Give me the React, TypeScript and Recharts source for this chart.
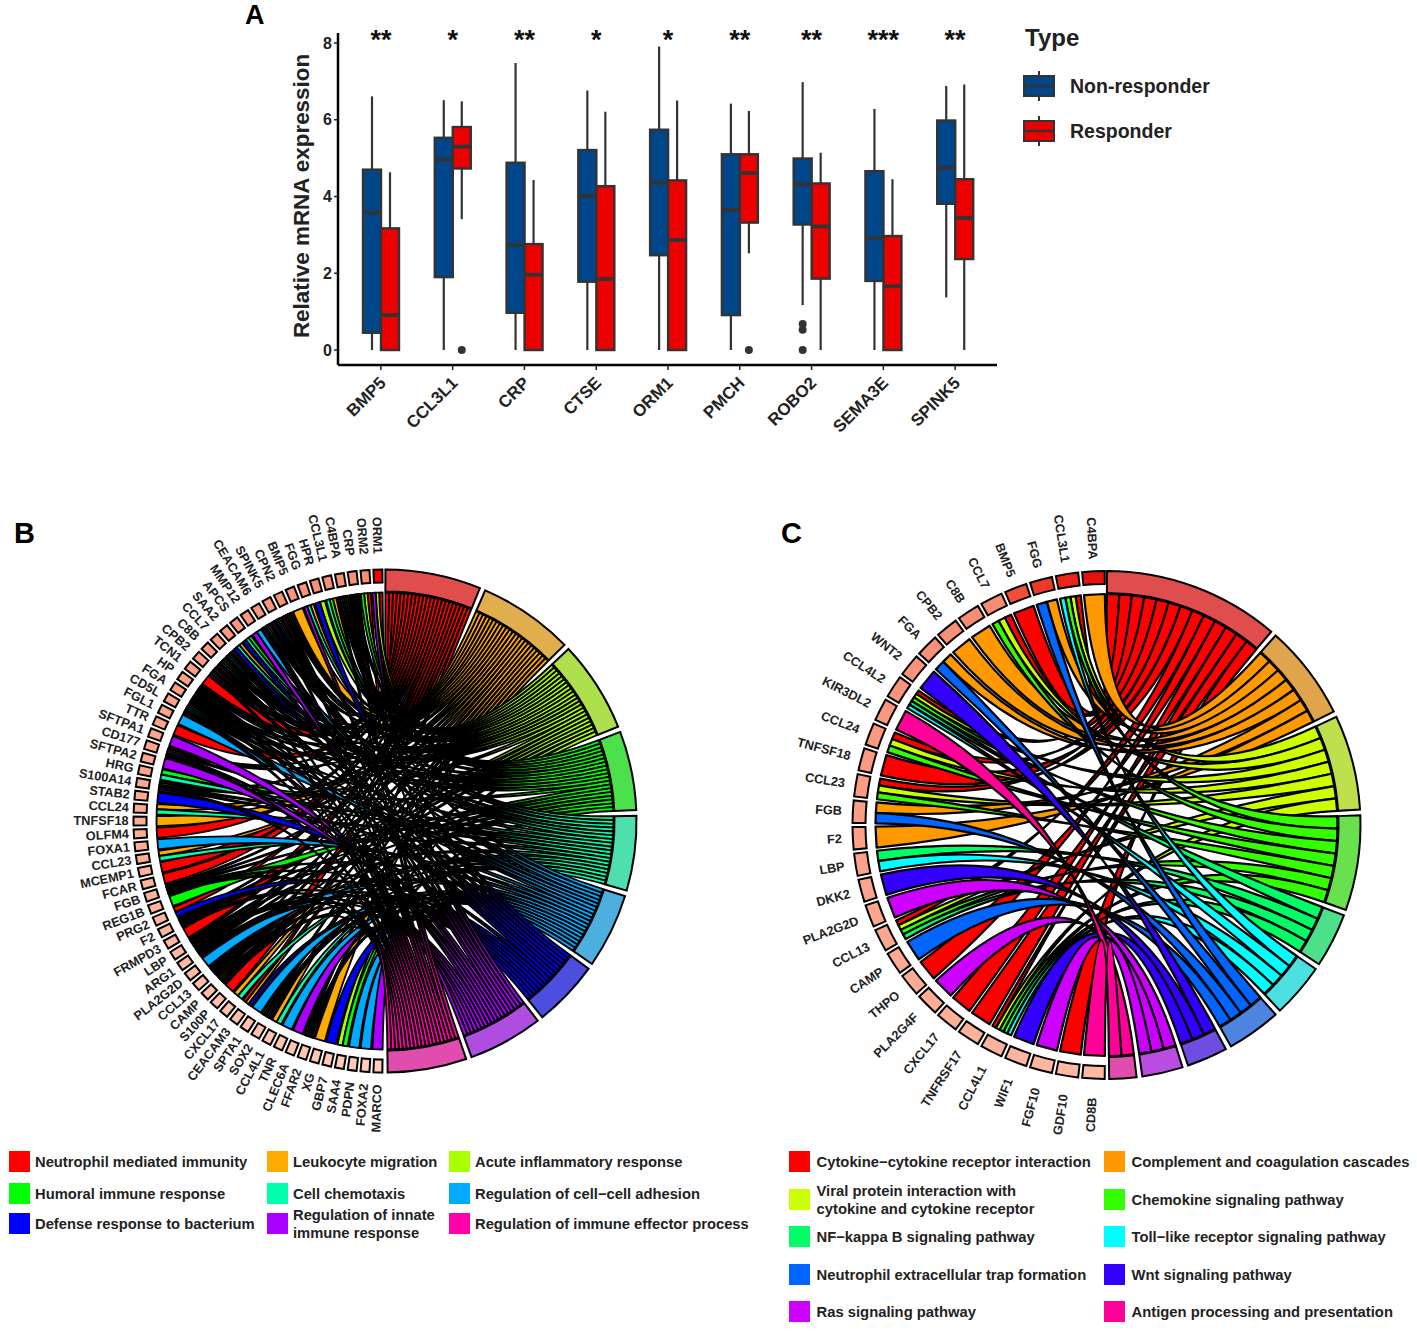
import React from "react";
import {
  ComposedChart, Bar, XAxis, YAxis, ReferenceDot,
  PieChart, Pie,
} from "recharts";

const FONT = "'Liberation Sans', Arial, sans-serif";

// Panel A
const boxGenes = ["BMP5", "CCL3L1", "CRP", "CTSE", "ORM1", "PMCH", "ROBO2", "SEMA3E", "SPINK5"];
const significance = ["**", "*", "**", "*", "*", "**", "**", "***", "**"];
// low, q1, median, q3, high
const nonResponder = [
  [0, 0.45, 3.58, 4.7, 6.61], [0, 1.9, 4.96, 5.53, 6.51], [0, 0.97, 2.74, 4.88, 7.48],
  [0, 1.78, 4.02, 5.21, 6.76], [0, 2.47, 4.36, 5.74, 7.91], [0, 0.91, 3.65, 5.1, 6.42],
  [1.17, 3.27, 4.32, 4.99, 6.98], [0, 1.8, 2.91, 4.66, 6.28], [1.37, 3.81, 4.75, 5.98, 6.88],
];
const responder = [
  [0, 0, 0.91, 3.17, 4.63], [3.41, 4.73, 5.3, 5.81, 6.48], [0, 0, 1.96, 2.76, 4.43],
  [0, 0, 1.85, 4.27, 6.21], [0, 0, 2.87, 4.42, 6.5], [2.52, 3.32, 4.61, 5.1, 6.23],
  [0, 1.86, 3.22, 4.34, 5.14], [0, 0, 1.66, 2.97, 4.45], [0, 2.37, 3.44, 4.45, 6.92],
];
const nonResponderOutliers = [[], [], [], [], [], [], [0.68, 0.53, 0], [], []];
const responderOutliers = [[], [0], [], [], [], [0], [], [], []];

const boxTable = boxGenes.map((gene, i) => ({
  gene,
  nr: nonResponder[i],
  re: responder[i],
  nrOut: nonResponderOutliers[i],
  reOut: responderOutliers[i],
}));

const BOX_STROKE = "#333333";
const NR_COLOR = "#00468B";
const RE_COLOR = "#ED0000";

const makeBox = (key: string, outKey: string) => (props: any) => {
  const { x, y, width, height, fill, payload } = props;
  const [low, q1, med, q3, high] = payload[key];
  const perUnit = height / (q3 - q1);
  const toY = (v: number) => y + (q3 - v) * perUnit;
  const mid = x + width / 2;
  return (
    <g>
      <line x1={mid} x2={mid} y1={toY(high)} y2={toY(low)} stroke={BOX_STROKE} strokeWidth={2.2} />
      <rect x={x} y={y} width={width} height={height} fill={fill} stroke={BOX_STROKE} strokeWidth={2.4} />
      <line x1={x} x2={x + width} y1={toY(med)} y2={toY(med)} stroke={BOX_STROKE} strokeWidth={3.8} />
      {payload[outKey].map((v: number, i: number) => (
        <circle key={i} cx={mid} cy={toY(v)} r={4} fill={BOX_STROKE} />
      ))}
    </g>
  );
};

const GeneTick = ({ x, y, payload }: any) => (
  <text
    x={x + 6}
    y={y + 12}
    textAnchor="end"
    fontFamily={FONT}
    fontWeight="bold"
    fontSize={17}
    fill="#222"
    transform={`rotate(-45 ${x + 6} ${y + 12})`}
  >
    {payload.value}
  </text>
);

// Chord panels: every string lists the pathway indexes a gene belongs to
const bTerms = [
  "Neutrophil mediated immunity", "Leukocyte migration", "Acute inflammatory response",
  "Humoral immune response", "Cell chemotaxis", "Regulation of cell\u2212cell adhesion",
  "Defense response to bacterium", "Regulation of innate\nimmune response", "Regulation of immune effector process",
];
const bColors = ["#FF0000", "#FFAA00", "#AAFF00", "#00FF00", "#00FFAA", "#00AAFF", "#0000FF", "#AA00FF", "#FF00AA"];
const bRing = ["#E04D4D", "#E0AE4D", "#AEE04D", "#4DE04D", "#4DE0AE", "#4DAEE0", "#4D4DE0", "#AE4DE0", "#E04DAE"];
const bGenes = [
  "ORM1", "ORM2", "CRP", "C4BPA", "CCL3L1", "HPR", "FGG", "BMP5", "CPN2", "SPINK5", "CEACAM6",
  "MMP12", "APCS", "SAA2", "CCL7", "C8B", "CPB2", "TCN1", "HP", "FGA", "CD5L", "FGL1", "TTR",
  "SFTPA1", "CD177", "SFTPA2", "HRG", "S100A14", "STAB2", "CCL24", "TNFSF18", "OLFM4", "FOXA1",
  "CCL23", "MCEMP1", "FCAR", "FGB", "REG1B", "PRG2", "F2", "FRMPD3", "LBP", "ARG1", "PLA2G2D",
  "CCL13", "CAMP", "S100P", "CXCL17", "CEACAM3", "SPTA1", "SOX2", "CCL4L1", "TNR", "CLEC6A",
  "FFAR2", "XG", "GBP7", "SAA4", "PDPN", "FOXA2", "MARCO",
];
const bLinks = [
  "027", "023", "023678", "12358", "134", "26", "147", "1", "12378", "02568", "02478",
  "57", "346", "146", "12348", "12368", "02358", "0", "023678", "123568", "24578", "5", "0",
  "7", "01478", "7", "34", "02458", "6", "14", "1", "0", "5",
  "14", "0", "0", "123568", "3", "06", "123478", "0", "023678", "012567", "5",
  "012346", "03478", "0", "14", "016", "5", "12458", "14", "5", "7",
  "01578", "1", "6", "23", "5", "5", "7",
];

const cTerms = [
  "Cytokine\u2212cytokine receptor interaction", "Complement and coagulation cascades",
  "Viral protein interaction with\ncytokine and cytokine receptor", "Chemokine signaling pathway",
  "NF\u2212kappa B signaling pathway", "Toll\u2212like receptor signaling pathway",
  "Neutrophil extracellular trap formation", "Wnt signaling pathway",
  "Ras signaling pathway", "Antigen processing and presentation",
];
const cColors = ["#FF0000", "#FF9900", "#CCFF00", "#33FF00", "#00FF66", "#00FFFF", "#0066FF", "#3300FF", "#CC00FF", "#FF0099"];
const cRing = ["#E04D4D", "#E0A44D", "#BEE04D", "#69E04D", "#4DE08A", "#4DE0E0", "#4D84E0", "#6E4DE0", "#BA4DE0", "#E04DAD"];
const cGenes = [
  "C4BPA", "CCL3L1", "FGG", "BMP5", "CCL7", "C8B", "CPB2", "FGA", "WNT2", "CCL4L2", "KIR3DL2",
  "CCL24", "TNFSF18", "CCL23", "FGB", "F2", "LBP", "DKK2", "PLA2G2D", "CCL13", "CAMP", "THPO",
  "PLA2G4F", "CXCL17", "TNFRSF17", "CCL4L1", "WIF1", "FGF10", "GDF10", "CD8B",
];
const cLinks = [
  "1", "0235", "16", "0", "023", "1", "1", "16", "7", "02345", "9",
  "023", "0", "023", "16", "1", "45", "7", "8", "0234", "6", "0",
  "8", "0", "0", "02345", "7", "8", "0", "9",
];

const polar = (cx: number, cy: number, r: number, deg: number) => {
  const a = (deg * Math.PI) / 180;
  return [cx + r * Math.cos(a), cy - r * Math.sin(a)];
};

// same arithmetic as the Pie uses for its sectors
const arcs = (values: number[], start: number, end: number, pad: number) => {
  const sign = end > start ? 1 : -1;
  const room = Math.abs(end - start) - (values.length - 1) * pad;
  const sum = values.reduce((a, b) => a + b, 0);
  let cur = start;
  return values.map((v) => {
    const a = cur;
    const b = cur + (sign * room * v) / sum;
    cur = b + sign * pad;
    return [a, b];
  });
};

const mix = (a: number[], b: number[], t: number) =>
  `rgb(${a.map((v, i) => Math.round(v + (b[i] - v) * t)).join(",")})`;

const bGeneFill = (i: number, n: number) =>
  i === 0 ? "#FF0000" : mix([250, 140, 112], [255, 205, 186], i / (n - 1));
const cGeneFill = (i: number, n: number) =>
  i < 4 ? mix([232, 16, 10], [240, 78, 56], i / 3) : mix([247, 132, 108], [255, 186, 164], i / (n - 1));

const geneLabel = ([side, top, bottom]: number[]) => (props: any) => {
  const { cx, cy, midAngle, outerRadius, name } = props;
  const s = Math.sin((midAngle * Math.PI) / 180);
  const gap = side + ((s > 0 ? top : bottom) - side) * s * s;
  const [x, y] = polar(cx, cy, outerRadius + gap, midAngle);
  return (
    <text
      x={x}
      y={y}
      textAnchor="end"
      dominantBaseline="central"
      fontFamily={FONT}
      fontWeight="bold"
      fontSize={12.7}
      fill="#222"
      transform={`rotate(${180 - midAngle} ${x} ${y})`}
    >
      {name}
    </text>
  );
};

function Chord({ cx, cy, radius, genes, links, ring, colors, terms, geneFill, gaps, geneStart, geneEnd, termStart, termEnd, genePad, ribbonPad, termPad, lineWidth, width, height }: any) {
  const counts = terms.map((_: string, t: number) =>
    links.filter((l: string) => l.includes(String(t))).length
  );
  const geneArcs = arcs(genes.map(() => 1), geneStart, geneEnd, ribbonPad);
  const termArcs = arcs(counts, termStart, termEnd, termPad);
  const ribbonR = radius - 23;
  const ribbons: any[] = [];
  terms.forEach((_: string, t: number) => {
    const [s0, s1] = termArcs[t];
    const step = (s1 - s0) / counts[t];
    let seen = 0;
    links.forEach((l: string, g: number) => {
      const idx = l.indexOf(String(t));
      if (idx < 0) return;
      const sa = s0 + step * seen;
      const sb = sa + step;
      seen += 1;
      const [g0, g1] = geneArcs[g];
      const gs = (g1 - g0) / l.length;
      const ga = g0 + gs * idx;
      const gb = ga + gs;
      const A = polar(cx, cy, ribbonR, sa);
      const B = polar(cx, cy, ribbonR, gb);
      const C = polar(cx, cy, ribbonR, sb);
      const D = polar(cx, cy, ribbonR, ga);
      ribbons.push(
        <path
          key={`${t}-${g}`}
          d={`M${A[0]} ${A[1]} Q${cx} ${cy} ${B[0]} ${B[1]} L${D[0]} ${D[1]} Q${cx} ${cy} ${C[0]} ${C[1]} Z`}
          fill={colors[t]}
          stroke="#000"
          strokeWidth={lineWidth}
          strokeLinejoin="round"
        />
      );
    });
  });
  const geneData = genes.map((name: string, i: number) => ({ name, value: 1, fill: geneFill(i, genes.length) }));
  const termData = terms.map((name: string, i: number) => ({ name, value: counts[i], fill: ring[i] }));
  return (
    <PieChart width={width} height={height} margin={{ top: 0, right: 0, bottom: 0, left: 0 }}>
      <g>{ribbons}</g>
      <Pie
        data={geneData}
        dataKey="value"
        nameKey="name"
        cx={cx}
        cy={cy}
        innerRadius={radius - 13}
        outerRadius={radius}
        startAngle={geneStart}
        endAngle={geneEnd}
        paddingAngle={genePad}
        stroke="#000"
        strokeWidth={2}
        label={geneLabel(gaps)}
        labelLine={false}
        isAnimationActive={false}
      />
      <Pie
        data={termData}
        dataKey="value"
        nameKey="name"
        cx={cx}
        cy={cy}
        innerRadius={radius - 22}
        outerRadius={radius}
        startAngle={termStart}
        endAngle={termEnd}
        paddingAngle={termPad}
        stroke="#000"
        strokeWidth={2}
        isAnimationActive={false}
      />
    </PieChart>
  );
}

const Abs = ({ left, top, children, style }: any) => (
  <div style={{ position: "absolute", left, top, fontFamily: FONT, fontWeight: "bold", color: "#222", ...style }}>{children}</div>
);

const LegendRow = ({ x, y, color, label, textX, fontSize }: any) => (
  <>
    <div style={{ position: "absolute", left: x, top: y, width: 21, height: 21, background: color }} />
    <Abs left={textX} top={y + 10.5} style={{ fontSize, lineHeight: "18px", transform: "translateY(-50%)", whiteSpace: "pre" }}>{label}</Abs>
  </>
);

const bLegendPos = [
  [9, 1151], [267, 1151], [449, 1151],
  [9, 1183], [267, 1183], [449, 1183],
  [9, 1213], [267, 1213], [449, 1213],
];
const cLegendPos = [
  [789, 1151], [1104, 1151], [789, 1189], [1104, 1189], [789, 1226],
  [1104, 1226], [789, 1264], [1104, 1264], [789, 1301], [1104, 1301],
];

const TypeKey = ({ top, color, label }: any) => (
  <>
    <svg style={{ position: "absolute", left: 1022, top: top - 17 }} width={34} height={34}>
      <line x1={17} x2={17} y1={2} y2={32} stroke={BOX_STROKE} strokeWidth={2} />
      <rect x={2} y={7} width={30} height={20} fill={color} stroke={BOX_STROKE} strokeWidth={2} />
      <line x1={2} x2={32} y1={17} y2={17} stroke={BOX_STROKE} strokeWidth={2.5} />
    </svg>
    <Abs left={1070} top={top - 12} style={{ fontSize: 19.5, lineHeight: "24px" }}>{label}</Abs>
  </>
);

export default function App() {
  return (
    <div style={{ position: "absolute", left: 0, top: 0, width: 1417, height: 1331, background: "#fff", overflow: "hidden" }}>
      <Abs left={245} top={0} style={{ fontSize: 27, lineHeight: "31px", color: "#000" }}>A</Abs>
      <Abs left={14} top={517} style={{ fontSize: 29, color: "#000" }}>B</Abs>
      <Abs left={781} top={517} style={{ fontSize: 29, color: "#000" }}>C</Abs>

      <div style={{ position: "absolute", left: 280, top: 0 }}>
        <ComposedChart
          width={720}
          height={450}
          data={boxTable}
          barSize={18}
          barGap={0}
          margin={{ top: 33, right: 3, bottom: 0, left: 18 }}
        >
          <XAxis
            dataKey="gene"
            height={85}
            padding={{ left: 7, right: 6 }}
            tick={<GeneTick />}
            tickSize={5}
            axisLine={{ stroke: "#000", strokeWidth: 2.5 }}
            tickLine={{ stroke: "#222", strokeWidth: 1.5 }}
            interval={0}
          />
          <YAxis
            type="number"
            width={40}
            domain={[-0.39, 8.26]}
            ticks={[0, 2, 4, 6, 8]}
            tickSize={4}
            axisLine={{ stroke: "#000", strokeWidth: 2.5 }}
            tickLine={{ stroke: "#222", strokeWidth: 1.5 }}
            tick={{ fontFamily: FONT, fontSize: 16, fontWeight: "bold", fill: "#222" }}
            label={{
              value: "Relative mRNA expression",
              angle: -90,
              position: "insideLeft",
              offset: 3,
              dy: -3,
              style: { fontFamily: FONT, fontSize: 22.4, fontWeight: "bold", fill: "#222", textAnchor: "middle" },
            }}
          />
          <Bar dataKey={(d: any) => [d.nr[1], d.nr[3]]} fill={NR_COLOR} shape={makeBox("nr", "nrOut")} isAnimationActive={false} />
          <Bar dataKey={(d: any) => [d.re[1], d.re[3]]} fill={RE_COLOR} shape={makeBox("re", "reOut")} isAnimationActive={false} />
          {boxGenes.map((g, i) => (
            <ReferenceDot
              key={g}
              x={g}
              y={8.1}
              r={0}
              stroke="none"
              label={{ value: significance[i], position: "center", style: { fontFamily: FONT, fontSize: 27, fontWeight: "bold", fill: "#111" } }}
            />
          ))}
        </ComposedChart>
      </div>

      <Abs left={1025} top={24} style={{ fontSize: 24, lineHeight: "28px" }}>Type</Abs>
      <TypeKey top={86} color={NR_COLOR} label="Non-responder" />
      <TypeKey top={131} color={RE_COLOR} label="Responder" />

      <div style={{ position: "absolute", left: 0, top: 500 }}>
        <Chord
          width={720} height={640} cx={385} cy={321} radius={251.5}
          genes={bGenes} links={bLinks} terms={bTerms} colors={bColors} ring={bRing}
          geneFill={bGeneFill} gaps={[5, 16, 12]}
          geneStart={90.6} geneEnd={269.4} genePad={0.9} ribbonPad={0.35}
          termStart={89.9} termEnd={-89.4} termPad={1.3} lineWidth={1.85}
        />
      </div>
      <div style={{ position: "absolute", left: 720, top: 500 }}>
        <Chord
          width={697} height={640} cx={386.5} cy={325} radius={254}
          genes={cGenes} links={cLinks} terms={cTerms} colors={cColors} ring={cRing}
          geneFill={cGeneFill} gaps={[11, 12, 19]}
          geneStart={90.4} geneEnd={269.6} genePad={0.9} ribbonPad={0.8}
          termStart={89.9} termEnd={-89.4} termPad={1.3} lineWidth={2.2}
        />
      </div>

      {bTerms.map((t, i) => (
        <LegendRow key={t} x={bLegendPos[i][0]} y={bLegendPos[i][1]} color={bColors[i]} label={t} textX={bLegendPos[i][0] + 26} fontSize={14.75} />
      ))}
      {cTerms.map((t, i) => (
        <LegendRow key={t} x={cLegendPos[i][0]} y={cLegendPos[i][1]} color={cColors[i]} label={t} textX={cLegendPos[i][0] + 27.5} fontSize={14.8} />
      ))}
    </div>
  );
}
